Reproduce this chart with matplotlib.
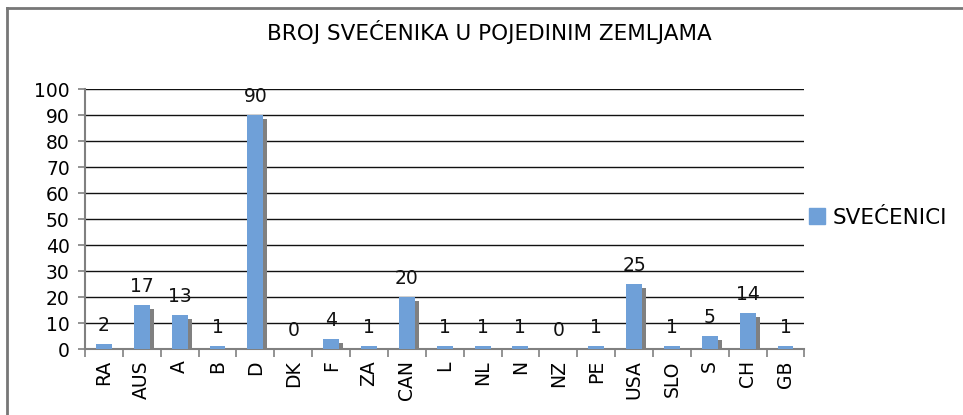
import matplotlib.pyplot as plt
import numpy as np
from matplotlib.lines import Line2D
from matplotlib.patches import Patch

countries = ["RA", "AUS", "A", "B", "D", "DK", "F", "ZA", "CAN", "L", "NL", "N", "NZ", "PE",
             "USA", "SLO", "S", "CH", "GB"]
priests = [2, 17, 13, 1, 90, 0, 4, 1, 20, 1, 1, 1, 0, 1, 25, 1, 5, 14, 1]

bar_color = '#6fa0d8'
shadow_color = '#808080'

fig = plt.figure(figsize=(9.63, 4.15), dpi=100)
ax = fig.add_axes([0.0883, 0.159, 0.747, 0.626])

x = np.arange(len(countries))
shadow = [max(v - 1.5, 0) for v in priests]
ax.bar(x + 0.105, shadow, width=0.42, color=shadow_color, zorder=2)
ax.bar(x, priests, width=0.42, color=bar_color, zorder=3)

for xi, v in zip(x, priests):
    ax.text(xi, v + 3.5, str(v), ha='center', va='bottom', fontsize=13.5, color='#111111')

ax.set_xlim(-0.5, len(countries) - 0.5)
ax.set_ylim(0, 100)
ax.set_yticks(range(0, 101, 10))
ax.set_xticks(x)
ax.set_xticklabels(countries, rotation=90, fontsize=13.5)
ax.tick_params(axis='y', labelsize=13.5, length=5, color='#808080', width=1.2, pad=6)
ax.tick_params(axis='x', length=0, pad=8)
# category separator ticks
ax.set_xticks(np.arange(-0.5, len(countries), 1), minor=True)
ax.tick_params(axis='x', which='minor', length=6, color='#808080', width=1.2)

ax.grid(axis='y', color='#111111', linewidth=1, zorder=0)
ax.set_axisbelow(True)
for s in ['top', 'right']:
    ax.spines[s].set_visible(False)
ax.spines['left'].set_color('#808080')
ax.spines['bottom'].set_color('#808080')
ax.spines['left'].set_linewidth(1.5)
ax.spines['bottom'].set_linewidth(1.5)

fig.text(0.508, 0.923, "BROJ SVEĆENIKA U POJEDINIM ZEMLJAMA", ha='center', va='center', fontsize=15.5)

fig.legend(handles=[Patch(color=bar_color, label="SVEĆENICI")], loc='center left',
           bbox_to_anchor=(0.82, 0.475), frameon=False, fontsize=15.5,
           handlelength=0.75, handleheight=0.75, handletextpad=0.35)

# outer chart frame (top and left edges visible)
fig.add_artist(Line2D([7 / 963, 1.0], [1 - 8 / 415, 1 - 8 / 415], color='#777777', linewidth=2))
fig.add_artist(Line2D([7 / 963, 7 / 963], [0, 1 - 8 / 415], color='#777777', linewidth=2))

fig.savefig("out.png", dpi=100)
